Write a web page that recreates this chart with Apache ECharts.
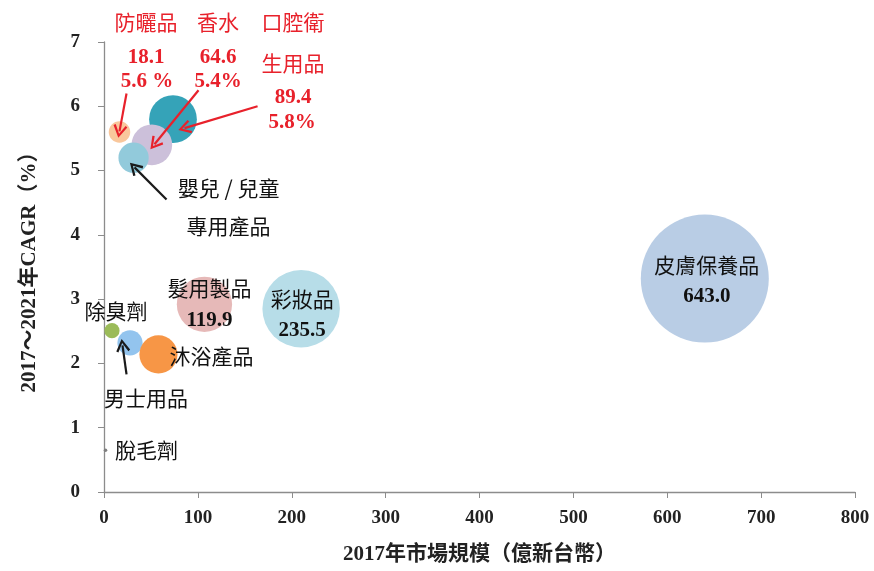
<!DOCTYPE html>
<html><head><meta charset="utf-8">
<script src="https://cdn.jsdelivr.net/npm/echarts@6/dist/echarts.min.js"></script>
<style>html,body{margin:0;padding:0;background:#fff}#c{width:874px;height:571px}</style>
</head><body><div id="c"></div>
<script>
// ---- data ----
const names   = ['皮膚保養品','彩妝品','髮用製品','男士用品','沐浴產品','除臭劑','脫毛劑','口腔衛生用品','香水','嬰兒／兒童專用產品','防曬品'];
const marketX = [640, 210, 107, 27.7, 58, 8.5, 1.6, 73.5, 51, 31.5, 16.5];   // bubble position on x (億新台幣)
const cagr    = [3.32, 2.85, 2.92, 2.32, 2.14, 2.51, 0.65, 5.8, 5.4, 5.2, 5.6]; // %
const sizes   = [643.0, 235.5, 119.9, 25, 57, 9, 0.5, 89.4, 64.6, 36, 18.1];     // bubble size
const colors  = ['#b9cde5','#b7dde8','#e6b9b8','#93c4ee','#f79646','#9bbb59','#7f7f7f','#35a3b8','#ccc0da','#92cadb','#f9c79c'];
const valueLabels = ['643.0','235.5','119.9'];
const xTicks = [0,100,200,300,400,500,600,700,800];
const yTicks = [0,1,2,3,4,5,6,7];
// arrows: [fromX, fromY, toX, toY]
const redArrows   = [[24.0,6.20,16.5,5.61],[100.7,6.25,53.8,5.41],[163.6,6.0,85.8,5.66]];
const blackArrows = [[66.6,4.55,32.5,5.05],[24.0,1.83,19.7,2.28]];

const CJK = '"Noto Sans CJK TC","Noto Sans CJK SC",sans-serif';
const SERIF = '"Liberation Serif","Noto Sans CJK TC",serif';
const RED = '#e8212b';

const chevron = 'path://M5,0 L10,9 L8.6,10 L5,3.2 L1.4,10 L0,9 Z';

function labelFor(i){
  const base = {show:true, color:'#111', fontFamily:CJK, fontSize:21,
    rich:{a:{fontFamily:CJK,fontSize:21,color:'#111',lineHeight:32},
          b:{fontFamily:SERIF,fontSize:21,fontWeight:'bold',color:'#111',lineHeight:32}}};
  switch(names[i]){
    case '皮膚保養品': return Object.assign(base,{position:'inside',offset:[2,2],formatter:'{a|'+names[i]+'}\n{b|'+valueLabels[0]+'}'});
    case '彩妝品': return Object.assign(base,{position:'inside',offset:[1,6],formatter:'{a|'+names[i]+'}\n{b|'+valueLabels[1]+'}'});
    case '髮用製品': return Object.assign(base,{position:'inside',offset:[5,0],formatter:'{a|'+names[i]+'}\n{b|'+valueLabels[2]+'}'});
    case '沐浴產品': return Object.assign(base,{position:'inside',offset:[53,2],formatter:names[i]});
    case '男士用品': return Object.assign(base,{position:'inside',offset:[16,55],formatter:names[i]});
    case '除臭劑': return Object.assign(base,{position:'inside',offset:[4,-20],formatter:names[i]});
    case '脫毛劑': return Object.assign(base,{position:'inside',offset:[41,0],formatter:names[i]});
    case '嬰兒／兒童專用產品': return Object.assign(base,{position:'inside',offset:[95,49],formatter:'{a|嬰兒 / 兒童}\n{a|專用產品}',
      rich:{a:{fontFamily:CJK,fontSize:21,color:'#111',lineHeight:38}}});
    default: return {show:false};
  }
}

const bubbleData = names.map((n,i)=>({
  name:n, value:[marketX[i], cagr[i], sizes[i]],
  itemStyle:{color:colors[i], opacity:1},
  label:labelFor(i)
}));

function arrowLines(arr,color){
  return arr.map(a=>[
    {coord:[a[0],a[1]], symbol:'none', lineStyle:{color:color,width:2.2,type:'solid'}},
    {coord:[a[2],a[3]], symbol:chevron, symbolSize:[14,13]}
  ]);
}

const redTexts = [
  ['防曬品',146,22,CJK,21,'normal'],['香水',218,22,CJK,21,'normal'],['口腔衛',293,22,CJK,21,'normal'],
  ['18.1',146,58,SERIF,21,'bold'],['5.6 %',147,82,SERIF,21,'bold'],
  ['64.6',218,58,SERIF,21,'bold'],['5.4%',218,82,SERIF,21,'bold'],
  ['生用品',293,63,CJK,21,'normal'],['89.4',293,98,SERIF,21,'bold'],['5.8%',292,123,SERIF,21,'bold']
];

const chart = echarts.init(document.getElementById('c'));
chart.setOption({
  backgroundColor:'#fff',
  animation:false,
  grid:{left:104,right:19,top:42,bottom:79,containLabel:false},
  xAxis:{type:'value',min:0,max:800,interval:100,
    name:'2017年市場規模（億新台幣）',nameLocation:'middle',nameGap:52,
    nameTextStyle:{fontFamily:SERIF,fontSize:21,fontWeight:'bold',color:'#222'},
    axisLine:{show:true,lineStyle:{color:'#8c8c8c',width:1.3}},
    axisTick:{show:true,length:6,lineStyle:{color:'#8c8c8c'}},
    splitLine:{show:false},
    axisLabel:{fontFamily:SERIF,fontSize:19,fontWeight:'bold',color:'#222',margin:17,
      formatter:v=>xTicks.includes(v)?String(v):''}},
  yAxis:{type:'value',min:0,max:7,interval:1,
    name:'2017～2021年CAGR（%）',nameLocation:'middle',nameGap:64,
    nameTextStyle:{fontFamily:SERIF,fontSize:21,fontWeight:'bold',color:'#222'},
    axisLine:{show:true,lineStyle:{color:'#8c8c8c',width:1.3}},
    axisTick:{show:true,length:6,lineStyle:{color:'#8c8c8c'}},
    splitLine:{show:false},
    axisLabel:{fontFamily:SERIF,fontSize:19,fontWeight:'bold',color:'#222',margin:24,
      formatter:v=>yTicks.includes(v)?String(v):''}},
  series:[
    {type:'scatter',z:2,data:bubbleData,
      symbolSize:v=>Math.max(3,128*Math.sqrt(v[2]/643)),
      emphasis:{disabled:true},silent:true},
    {type:'scatter',z:5,data:[],silent:true,
      markLine:{silent:true,animation:false,label:{show:false},emphasis:{disabled:true},
        data:arrowLines(redArrows,RED).concat(arrowLines(blackArrows,'#1a1a1a'))}}
  ],
  graphic:redTexts.map(t=>({type:'text',x:t[1],y:t[2],z:10,
    style:{text:t[0],fill:RED,font:t[5]+' '+t[4]+'px '+t[3],align:'center',verticalAlign:'middle'}}))
});
</script>
</body></html>
